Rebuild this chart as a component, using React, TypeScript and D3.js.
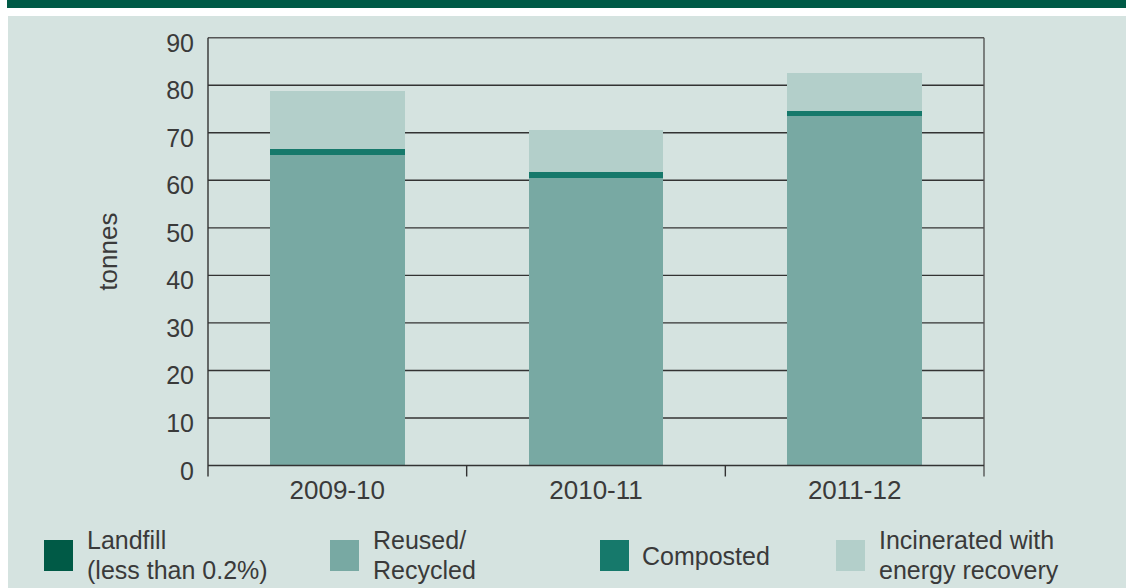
import React from "react";
import * as d3 from "d3";

const categories = ["2009-10", "2010-11", "2011-12"];
const landfill = [0.1, 0.1, 0.1];
const reused = [65.2, 60.4, 73.4];
const composted = [1.3, 1.2, 1.1];
const incinerated = [12.2, 8.9, 8.0];
const yTicks = [0, 10, 20, 30, 40, 50, 60, 70, 80, 90];
const seriesNames = ["Landfill", "Reused", "Composted", "Incinerated"];
const legendLabels = [
  ["Landfill", "(less than 0.2%)"],
  ["Reused/", "Recycled"],
  ["Composted"],
  ["Incinerated with", "energy recovery"],
];
const colors = ["#005a46", "#78a9a3", "#16796b", "#b3cfca"];

const W = 1126;
const H = 588;
const left = 208;
const right = 984;
const top = 37.7;
const bottom = 465.5;
const FONT = "'Liberation Sans', Arial, sans-serif";
const TEXT = "#3a3a3a";

export default function App() {
  const x = d3.scaleBand().domain(categories).range([left, right]).paddingInner(0.48).paddingOuter(0.24);
  const y = d3.scaleLinear().domain([0, 90]).range([bottom, top]);
  const data = categories.map((c, i) => ({
    cat: c,
    Landfill: landfill[i],
    Reused: reused[i],
    Composted: composted[i],
    Incinerated: incinerated[i],
  }));
  const stacked = d3.stack<any>().keys(seriesNames)(data);
  const band = (right - left) / categories.length;
  const legendX = [44, 330, 600, 836];

  return (
    <svg width={W} height={H} style={{ position: "absolute", left: 0, top: 0 }} fontFamily={FONT}>
      <rect x={7} y={0} width={W - 7} height={8} fill="#005a46" />
      <rect x={8} y={16} width={W - 8} height={H - 16} fill="#d5e3e0" />
      {/* gridlines */}
      {yTicks.slice(1).map((t) => (
        <line key={t} x1={left} x2={right} y1={y(t)} y2={y(t)} stroke={t === 90 ? "#555" : "#333"} strokeWidth={1.4} />
      ))}
      {/* bars */}
      {stacked.map((s, si) =>
        s.map((d, i) => (
          <rect
            key={si + "-" + i}
            x={x(categories[i])}
            width={x.bandwidth()}
            y={y(d[1])}
            height={y(d[0]) - y(d[1])}
            fill={colors[si]}
            shapeRendering="crispEdges"
          />
        ))
      )}
      {/* axes */}
      <line x1={left} x2={left} y1={top} y2={bottom + 11} stroke="#333" strokeWidth={1.4} />
      <line x1={right} x2={right} y1={top} y2={bottom + 11} stroke="#555" strokeWidth={1.4} />
      <line x1={left} x2={right} y1={bottom} y2={bottom} stroke="#333" strokeWidth={1.6} />
      {d3.range(1, categories.length).map((k) => (
        <line key={k} x1={left + band * k} x2={left + band * k} y1={bottom} y2={bottom + 11} stroke="#333" strokeWidth={1.4} />
      ))}
      {yTicks.map((t) => (
        <text key={t} x={194} y={y(t) + 14} textAnchor="end" fontSize={25} fill={TEXT}>
          {t}
        </text>
      ))}
      {categories.map((c) => (
        <text key={c} x={(x(c) as number) + x.bandwidth() / 2} y={499} textAnchor="middle" fontSize={26} fill={TEXT}>
          {c}
        </text>
      ))}
      <text transform={`translate(117, ${(top + bottom) / 2}) rotate(-90)`} textAnchor="middle" fontSize={26} fill={TEXT}>
        tonnes
      </text>
      {/* legend */}
      {legendLabels.map((lines, i) => (
        <g key={i}>
          <rect x={legendX[i]} y={540} width={29} height={31} fill={colors[i]} />
          {lines.length === 1 ? (
            <text x={legendX[i] + 42} y={565} fontSize={25} fill={TEXT}>
              {lines[0]}
            </text>
          ) : (
            lines.map((l, j) => (
              <text key={j} x={legendX[i] + 43} y={549 + j * 30} fontSize={25} fill={TEXT}>
                {l}
              </text>
            ))
          )}
        </g>
      ))}
    </svg>
  );
}
